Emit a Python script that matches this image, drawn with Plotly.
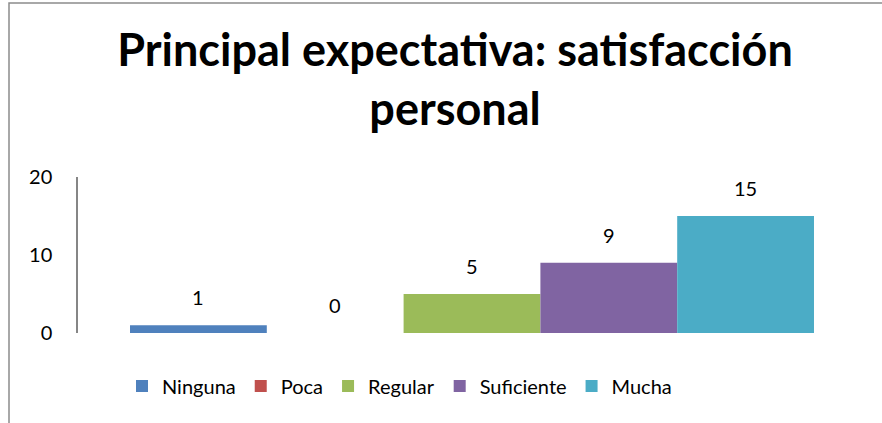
import plotly.graph_objects as go

series_names = ["Ninguna", "Poca", "Regular", "Suficiente", "Mucha"]
series_values = [1, 0, 5, 9, 15]
series_colors = ["#4F81BD", "#C0504D", "#9BBB59", "#8064A2", "#4BACC6"]
category = [""]
title_text = "Principal expectativa: satisfacción<br>personal"
y_ticks = [0, 10, 20]

FONT = "Lato, Calibri, Carlito, sans-serif"
BARGAP = 0.132

fig = go.Figure()
for name, val, col in zip(series_names, series_values, series_colors):
    fig.add_trace(go.Bar(
        x=category, y=[val], name=name, marker=dict(color=col, line=dict(width=0)),
        cliponaxis=False,
    ))

# data labels placed above each bar of the group
n = len(series_values)
group_w = 1 - BARGAP
bar_w = group_w / n
annotations = []
for i, val in enumerate(series_values):
    annotations.append(dict(
        x=-group_w / 2 + (i + 0.5) * bar_w, y=val, xref="x", yref="y",
        text=str(val), showarrow=False, yanchor="bottom", yshift=14,
        font=dict(family=FONT, size=20, color="black"),
    ))

W, H = 882, 423
ml, mr, mt, mb = 78, 16, 177, 90
ph = H - mt - mb
pw = W - ml - mr

def px_x(x):
    return (x - ml) / pw

def px_y(y):
    return (H - mb - y) / ph

fig.update_layout(
    width=W, height=H,
    margin=dict(l=ml, r=mr, t=mt, b=mb, autoexpand=False),
    paper_bgcolor="white", plot_bgcolor="white",
    barmode="group", bargap=BARGAP, bargroupgap=0,
    font=dict(family=FONT, color="black"),
    title=dict(text=title_text, x=455 / W, xanchor="center", y=1 - 66 / H, yanchor="middle",
               xref="container", yref="container",
               font=dict(family=FONT, size=45, color="black", weight="bold")),
    showlegend=True,
    legend=dict(orientation="h", x=px_x(122), xanchor="left", y=px_y(386), yanchor="middle",
                font=dict(family=FONT, size=20, color="black"), itemwidth=30,
                bgcolor="rgba(0,0,0,0)"),
    xaxis=dict(showticklabels=False, showline=False, showgrid=False, zeroline=False, ticks=""),
    yaxis=dict(range=[0, 20], tickvals=y_ticks, showgrid=False, zeroline=False,
               showline=True, linecolor="#868686", linewidth=1.5, ticks="",
               ticklabelstandoff=20, tickfont=dict(family=FONT, size=20, color="black")),
    annotations=annotations,
    shapes=[dict(type="rect", xref="paper", yref="paper",
                 x0=px_x(9), x1=px_x(W + 40), y0=px_y(H + 40), y1=px_y(3),
                 line=dict(color="#8C8C8C", width=1.5), fillcolor="rgba(0,0,0,0)", layer="below")],
)

fig.write_html("out.html", config={"displayModeBar": False},
               post_script="document.body.style.margin='0';")
